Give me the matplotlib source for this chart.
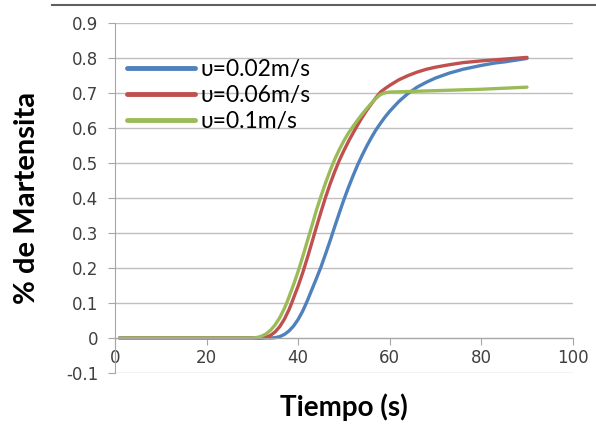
import matplotlib
matplotlib.use('Agg')
import matplotlib.pyplot as plt
from matplotlib.lines import Line2D

# time (s) and % martensite
t_002 = [1, 10, 20, 30, 34, 35, 36, 37, 38, 39, 40, 41, 41.8, 42, 43, 44, 45, 46, 47, 48, 49,
         50, 51, 52, 53, 54, 55, 56, 57, 58, 59, 60, 62, 64, 66, 68, 70, 73, 76, 80, 83, 85,
         87, 90]
m_002 = [0, 0, 0, 0, 0, 0.0009, 0.004, 0.0101, 0.02, 0.034, 0.0529, 0.0768, 0.1, 0.106,
         0.138, 0.17, 0.203, 0.24, 0.278, 0.318, 0.357, 0.395, 0.43, 0.463, 0.494, 0.522,
         0.548, 0.572, 0.594, 0.613, 0.631, 0.647, 0.675, 0.698, 0.716, 0.73, 0.742, 0.756,
         0.767, 0.778, 0.785, 0.788, 0.792, 0.798]

t_006 = [1, 10, 20, 30, 31.6, 32, 33, 34, 35, 36, 37, 38, 38.6, 39, 40, 41, 42, 43, 44, 45,
         46, 47, 48, 49, 50, 51, 52, 53, 54, 55, 56, 57, 58, 59, 60, 62, 64, 66, 68, 70, 73,
         76, 80, 85, 90]
m_006 = [0, 0, 0, 0, 0, 0.0001, 0.0021, 0.0077, 0.0177, 0.0328, 0.0536, 0.0806, 0.1, 0.114,
         0.148, 0.186, 0.228, 0.272, 0.317, 0.36, 0.402, 0.44, 0.475, 0.507, 0.535, 0.561,
         0.585, 0.608, 0.63, 0.65, 0.668, 0.686, 0.702, 0.712, 0.721, 0.737, 0.749, 0.759,
         0.767, 0.773, 0.78, 0.786, 0.791, 0.796, 0.801]

t_01 = [1, 10, 20, 29.5, 30, 31, 32, 33, 34, 35, 36, 37, 37.5, 38, 39, 40, 41, 42, 43, 44,
        45, 46, 47, 48, 49, 50, 51, 52, 53, 54, 55, 56, 57, 58, 59, 60, 65, 70, 75, 80, 85, 90]
m_01 = [0, 0, 0, 0, 0.0001, 0.0013, 0.0049, 0.0117, 0.0224, 0.0378, 0.0583, 0.0846, 0.1,
        0.117, 0.152, 0.19, 0.232, 0.276, 0.32, 0.365, 0.405, 0.443, 0.478, 0.51, 0.538,
        0.563, 0.585, 0.604, 0.622, 0.639, 0.655, 0.67, 0.684, 0.695, 0.7, 0.702, 0.704,
        0.706, 0.708, 0.71, 0.713, 0.716]

labels = ['υ=0.02m/s', 'υ=0.06m/s', 'υ=0.1m/s']
x_ticks = [0, 20, 40, 60, 80, 100]
y_ticks = [-0.1, 0, 0.1, 0.2, 0.3, 0.4, 0.5, 0.6, 0.7, 0.8, 0.9]

fig = plt.figure(figsize=(5.96, 4.26), dpi=100)
ax = fig.add_axes([0.193, 0.1244, 0.768, 0.8223])

ax.plot(t_002, m_002, color='#4F81BD', lw=2.4, label=labels[0], solid_capstyle='round')
ax.plot(t_006, m_006, color='#C0504D', lw=2.4, label=labels[1], solid_capstyle='round')
ax.plot(t_01, m_01, color='#9BBB59', lw=2.4, label=labels[2], solid_capstyle='round')

ax.set_xlim(0, 100)
ax.set_ylim(-0.1, 0.9)
ax.set_xticks(x_ticks)
ax.set_yticks(y_ticks)
ax.set_xticklabels([str(v) for v in x_ticks])
ax.set_yticklabels(['-0.1', '0'] + ['%.1f' % v for v in y_ticks[2:]])

ax.grid(axis='y', color='#BFBFBF', lw=1.0)
ax.set_axisbelow(True)
for s in ['top', 'right']:
    ax.spines[s].set_visible(False)
ax.spines['bottom'].set_position(('data', 0))
ax.spines['bottom'].set_color('#A6A6A6')
ax.spines['left'].set_color('#A6A6A6')
ax.tick_params(axis='x', direction='out', length=5, color='#A6A6A6', labelsize=12,
               labelcolor='#404040', pad=3)
ax.tick_params(axis='y', direction='out', length=5, color='#A6A6A6', labelsize=12,
               labelcolor='#404040', pad=7)

ax.set_xlabel('Tiempo (s)', fontsize=20, fontweight='bold', family=['Lato', 'DejaVu Sans'],
              labelpad=19)
ax.set_ylabel('% de Martensita', fontsize=21, fontweight='bold', family=['Lato', 'DejaVu Sans'],
              labelpad=19)

leg = ax.legend(loc='upper left', bbox_to_anchor=(0.026, 0.895), frameon=False,
                borderpad=0, borderaxespad=0, handlelength=2.97, handletextpad=0.22,
                labelspacing=0.215, prop={'family': ['Lato', 'DejaVu Sans'], 'size': 16.5})
for h in leg.get_lines():
    h.set_linewidth(3.5)

# dark rule along the top edge
fig.add_artist(Line2D([52 / 596, 1.0], [1 - 5 / 426, 1 - 5 / 426], color='#606060', lw=1.5))

fig.savefig('out.png', dpi=100)
